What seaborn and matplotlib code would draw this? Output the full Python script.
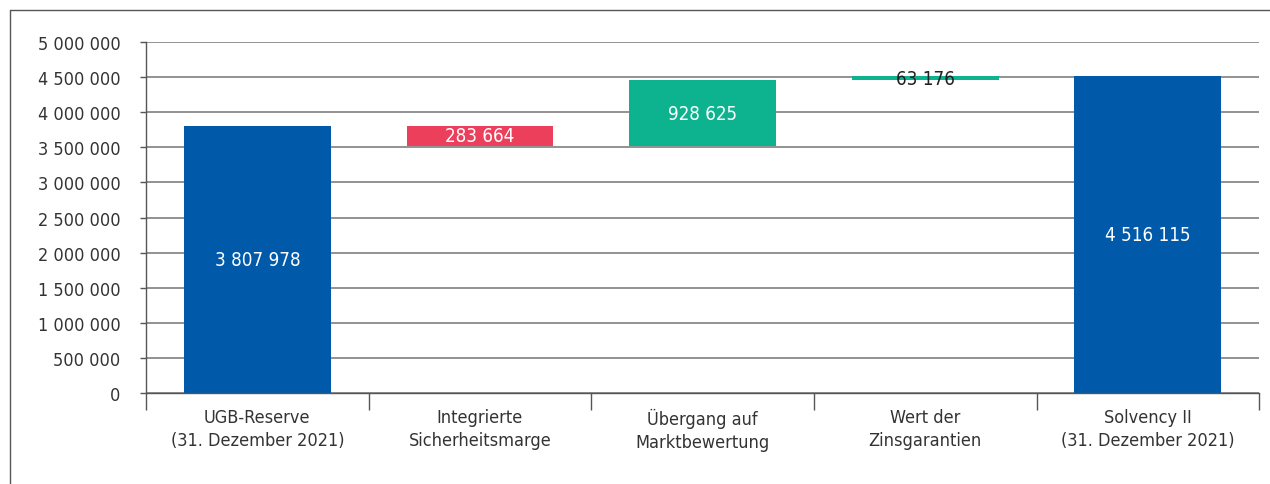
#!/usr/bin/env python3
"""Waterfall: UGB-Reserve -> Solvency II (31. Dezember 2021)."""
import matplotlib

matplotlib.use("Agg")
import matplotlib.pyplot as plt
import numpy as np
import seaborn as sns
from matplotlib.lines import Line2D
from matplotlib.ticker import FixedLocator, FuncFormatter

categories = [
    "UGB-Reserve\n(31. Dezember 2021)",
    "Integrierte\nSicherheitsmarge",
    "Übergang auf\nMarktbewertung",
    "Wert der\nZinsgarantien",
    "Solvency II\n(31. Dezember 2021)",
]
# signed steps; first and last are totals
steps = [3807978, -283664, 928625, 63176, 4516115]
is_total = [True, False, False, False, True]

BLUE = "#005aa9"
RED = "#ec3f5c"
GREEN = "#0db38e"

sns.set_theme(style="white")
plt.rcParams["font.family"] = ["DejaVu Sans"]
plt.rcParams["font.stretch"] = "condensed"

# waterfall geometry from the steps
bottoms, heights, colors = [], [], []
running = 0
for step, total in zip(steps, is_total):
    if total:
        bottoms.append(0)
        heights.append(step)
        colors.append(BLUE)
        running = step
    else:
        new = running + step
        bottoms.append(min(running, new))
        heights.append(abs(step))
        colors.append(GREEN if step > 0 else RED)
        running = new

fig = plt.figure(figsize=(12.7, 4.85), dpi=100)
ax = fig.add_axes([0.115, 0.1876, 0.8765, 0.7237])

ax.grid(axis="y", color="#7f7f7f", linewidth=1.2, zorder=0)
ax.set_axisbelow(True)

sns.barplot(
    x=categories,
    y=heights,
    hue=categories,
    palette=colors,
    legend=False,
    width=0.66,
    saturation=1,
    linewidth=0,
    ax=ax,
    zorder=2,
)
for patch, b in zip(ax.patches, bottoms):
    patch.set_y(b)

ax.set_ylim(0, 5_000_000)
ax.set_xlim(-0.5, len(categories) - 0.5)
ax.yaxis.set_major_locator(FixedLocator(np.arange(0, 5_000_001, 500_000)))
ax.yaxis.set_major_formatter(FuncFormatter(lambda v, _: f"{v:,.0f}".replace(",", " ")))

# labels in the middle of each bar
for i, (step, b, h) in enumerate(zip(steps, bottoms, heights)):
    txt = f"{abs(step):,}".replace(",", " ")
    small = h < 150_000
    ax.text(
        i,
        b + h / 2,
        txt,
        ha="center",
        va="center",
        fontsize=13.5,
        fontweight="medium",
        color="#222222" if small else "white",
        zorder=3,
    )

# category boundaries as tick marks, names centered
ax.set_xticks(range(len(categories)))
ax.set_xticks(np.arange(-0.5, len(categories)), minor=True)
ax.tick_params(axis="x", which="major", bottom=True, length=0, pad=11, labelsize=13,
               labelcolor="#333333")
ax.tick_params(axis="x", which="minor", bottom=True, length=12, width=1, color="#555555",
               direction="out")
ax.tick_params(axis="y", length=4.5, width=1, color="#555555", left=True, pad=14,
               labelsize=13, labelcolor="#333333")
for lbl in ax.get_xticklabels():
    lbl.set_linespacing(1.35)
ax.set_xlabel("")
ax.set_ylabel("")

for side in ("top", "right"):
    ax.spines[side].set_visible(False)
for side in ("left", "bottom"):
    ax.spines[side].set_color("#555555")
    ax.spines[side].set_linewidth(1)

# outer frame (left and top edges)
fig.add_artist(Line2D([10 / 1270, 10 / 1270], [0, 1 - 11 / 485], transform=fig.transFigure,
                      color="#555555", linewidth=1))
fig.add_artist(Line2D([10 / 1270, 1], [1 - 11 / 485, 1 - 11 / 485], transform=fig.transFigure,
                      color="#555555", linewidth=1))

fig.savefig("out.png", dpi=100)
